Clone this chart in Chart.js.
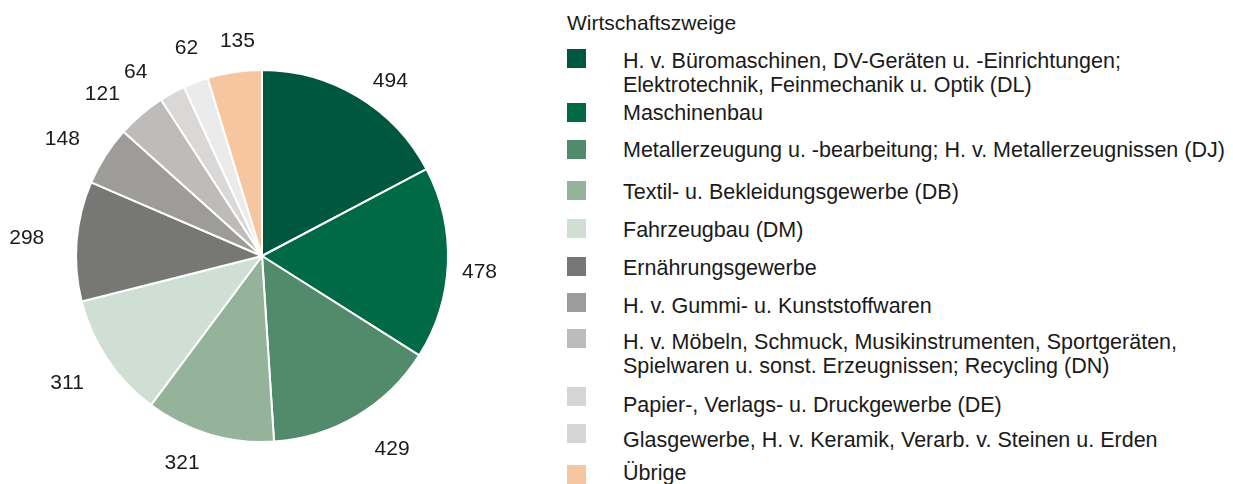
<!DOCTYPE html>
<html>
<head>
<meta charset="utf-8">
<script src="https://cdn.jsdelivr.net/npm/chart.js@4.4.0/dist/chart.umd.min.js"></script>
<style>
    body { margin: 0; background: #fff; font-family: "Liberation Sans", Arial, sans-serif; color: #1a1a1a; }
    .master { position: relative; width: 1233px; height: 484px; overflow: hidden; }
    .pie-wrap { position: absolute; left: 0; top: 0; width: 560px; height: 484px; }
    .legend-title { position: absolute; left: 567px; top: 11px; font-size: 21px; line-height: 23px; white-space: nowrap; }
    .legend-box { position: absolute; left: 567px; width: 19px; height: 19px; }
    .legend-text { position: absolute; left: 623px; font-size: 21.5px; line-height: 24px; white-space: nowrap; }
</style>
</head>
<body>
<div class="master">
    <div class="pie-wrap"><canvas id="myChart" width="560" height="484"></canvas></div>
    <div class="legend"></div>
</div>
<script>
// data
const legendTitle = 'Wirtschaftszweige';
const categories = [
    ['H. v. Büromaschinen, DV-Geräten u. -Einrichtungen;', 'Elektrotechnik, Feinmechanik u. Optik (DL)'],
    'Maschinenbau',
    'Metallerzeugung u. -bearbeitung; H. v. Metallerzeugnissen (DJ)',
    'Textil- u. Bekleidungsgewerbe (DB)',
    'Fahrzeugbau (DM)',
    'Ernährungsgewerbe',
    'H. v. Gummi- u. Kunststoffwaren',
    ['H. v. Möbeln, Schmuck, Musikinstrumenten, Sportgeräten,', 'Spielwaren u. sonst. Erzeugnissen; Recycling (DN)'],
    'Papier-, Verlags- u. Druckgewerbe (DE)',
    'Glasgewerbe, H. v. Keramik, Verarb. v. Steinen u. Erden',
    'Übrige'
];
const values = [494, 478, 429, 321, 311, 298, 148, 121, 64, 62, 135];
const colors = ['#00573F', '#006A46', '#528B6B', '#94B39A', '#D0DFD3', '#777775', '#9D9C99', '#BDBCBA', '#D9D8D6', '#EBEBEB', '#F6C6A0'];
const legendColors = ['#00573F', '#006A46', '#528B6B', '#94B39A', '#D0DFD3', '#777775', '#9D9C99', '#BDBCBA', '#D5D5D3', '#D5D5D3', '#F6C6A0'];

// layout (not data)
const labelGap = [32, 32, 46, 35, 46, 50, 46, 42, 38, 36, 31];
const labelTurn = [5, 1.7, -3.4, 4.7, 0.9, 0, -2, -4, -5.5, 1, 2]; // degrees
const legendBoxTop = [49, 103, 140, 181, 219, 257, 293, 329, 387, 424, 465];
const legendTextMid = [61, 113, 150, 192, 230, 268, 306, 342, 405, 440, 473];

// value labels outside the slices
const outsideLabels = {
    id: 'outsideLabels',
    afterDatasetsDraw(chart) {
        const ctx = chart.ctx;
        const meta = chart.getDatasetMeta(0);
        ctx.save();
        ctx.font = '21px "Liberation Sans", Arial, sans-serif';
        ctx.fillStyle = '#1a1a1a';
        ctx.textAlign = 'center';
        ctx.textBaseline = 'middle';
        meta.data.forEach(function(arc, i) {
            const p = arc.getProps(['x', 'y', 'startAngle', 'endAngle', 'outerRadius'], true);
            const mid = (p.startAngle + p.endAngle) / 2 + labelTurn[i] * Math.PI / 180;
            const r = p.outerRadius + labelGap[i];
            ctx.fillText(String(values[i]), p.x + Math.cos(mid) * r, p.y + Math.sin(mid) * r + 1);
        });
        ctx.restore();
    }
};

const myChart = new Chart(document.getElementById('myChart'), {
    type: 'pie',
    data: {
        labels: categories,
        datasets: [{
            data: values,
            backgroundColor: colors,
            borderColor: '#ffffff',
            borderWidth: 2
        }]
    },
    options: {
        responsive: false,
        animation: false,
        layout: { padding: { left: 75, right: 111, top: 69, bottom: 41 } },
        plugins: {
            legend: { display: false },
            tooltip: { enabled: false }
        }
    },
    plugins: [outsideLabels]
});

// legend on the right
function make_legend() {
    const legend = document.querySelector('.legend');
    let title = document.createElement('div');
    title.classList.add('legend-title');
    title.innerText = legendTitle;
    legend.appendChild(title);
    for (let i = 0; i < categories.length; ++i) {
        let box = document.createElement('div');
        box.classList.add('legend-box');
        box.style.top = legendBoxTop[i] + 'px';
        box.style.backgroundColor = legendColors[i];
        legend.appendChild(box);
        let text = document.createElement('div');
        text.classList.add('legend-text');
        text.style.top = (legendTextMid[i] - 12) + 'px';
        let lines = Array.isArray(categories[i]) ? categories[i] : [categories[i]];
        text.innerHTML = lines.join('<br>');
        legend.appendChild(text);
    }
}
make_legend();
</script>
</body>
</html>
